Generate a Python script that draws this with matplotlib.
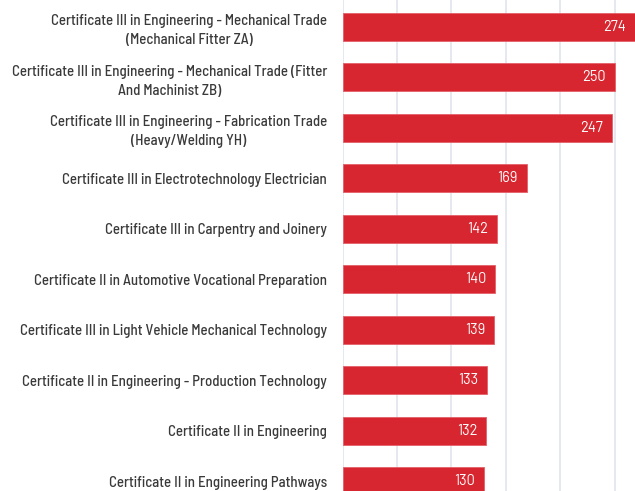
import matplotlib
matplotlib.use('Agg')
import matplotlib.pyplot as plt

# qualifications and counts, top to bottom
courses = [
    'Certificate III in Engineering - Mechanical Trade\n(Mechanical Fitter ZA)',
    'Certificate III in Engineering - Mechanical Trade (Fitter\nAnd Machinist ZB)',
    'Certificate III in Engineering - Fabrication Trade\n(Heavy/Welding YH)',
    'Certificate III in Electrotechnology Electrician',
    'Certificate III in Carpentry and Joinery',
    'Certificate II in Automotive Vocational Preparation',
    'Certificate III in Light Vehicle Mechanical Technology',
    'Certificate II in Engineering - Production Technology',
    'Certificate II in Engineering',
    'Certificate II in Engineering Pathways',
]
counts = [274, 250, 247, 169, 142, 140, 139, 133, 132, 130]
grid_ticks = [0, 50, 100, 150, 200, 250]

plt.rcParams['font.family'] = ['Barlow Semi Condensed', 'DejaVu Sans']

fig = plt.figure(figsize=(6.35, 4.91), dpi=100)
ax = fig.add_axes([342.5 / 635, 0, 292.5 / 635, 1])

pos = list(range(len(courses)))
ax.barh(pos, counts, height=0.555, color='#d7262f', edgecolor='#e5606a', linewidth=0.6, zorder=2)

# value labels inside bar ends
for p, v in zip(pos, counts):
    x = min(v, 268.5)
    ax.annotate(str(v), (x, p), xytext=(-6.5, 0), textcoords='offset points',
                ha='right', va='center', color='white', fontsize=10.5,
                family=['Barlow', 'DejaVu Sans'], zorder=3)

ax.set_xlim(0, 268.5)
ax.set_ylim(9.19, -0.53)
ax.set_xticks(grid_ticks)
ax.xaxis.grid(True, color='#e1e4ec', linewidth=1.2, zorder=0)
ax.set_xticklabels([])
ax.tick_params(axis='x', length=0)

ax.set_yticks(pos)
ax.set_yticklabels(courses, fontsize=10.7, color='#3a3a3a', fontweight='medium',
                   multialignment='center', linespacing=1.45)
ax.tick_params(axis='y', length=0, pad=11)

for s in ax.spines.values():
    s.set_visible(False)

fig.savefig('out.png', dpi=100)
